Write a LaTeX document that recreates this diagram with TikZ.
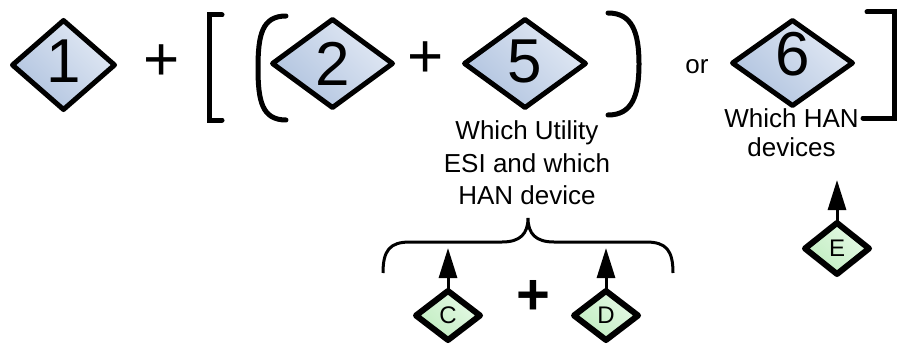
\documentclass[tikz,border=0pt]{standalone}
\usepackage{fontspec}
\setmainfont{Liberation Sans}
\usetikzlibrary{shapes.geometric,arrows.meta,positioning}
\definecolor{blueL}{HTML}{E2E9F4}
\definecolor{blueD}{HTML}{B0C3DF}
\definecolor{greenL}{HTML}{E6F9E6}
\definecolor{greenD}{HTML}{C0EDC0}
\newcommand{\bigfont}{\fontsize{62}{62}\selectfont}
\newcommand{\labfont}{\fontsize{26}{32.5}\selectfont}

\begin{document}
\begin{tikzpicture}[x=1pt, y=-1pt,
        % Diamonds
        bigdia/.style={diamond, draw=black, line width=5pt, line join=round, inner sep=0pt, outer sep=0pt, minimum width=120pt, minimum height=88pt, left color=blueL, right color=blueD, shading angle=-45},
        smalldia/.style={diamond, draw=black, line width=6pt, line join=round, inner sep=0pt, outer sep=0pt, minimum width=64pt, minimum height=49pt, left color=greenL, right color=greenD, shading angle=-45},
        % Signs and texts
        sign/.style={font=\bigfont, inner sep=0pt},
        letter/.style={font=\fontsize{24}{24}\selectfont, inner sep=0pt},
        caption/.style={font=\labfont, align=center, inner sep=0pt},
        % Lines
        bracket/.style={line width=5pt, line cap=round},
        uparrow/.style={line width=3pt, -{Triangle[length=30pt, width=18pt]}}
    ]
        \useasboundingbox (0,0) rectangle (897,345);

        % Top row
        \node (d1) [bigdia, minimum width=102pt, minimum height=89pt, label={[sign, yshift=4pt]center:1}] at (63.5,65) {};
        \node (p1) [sign] at (162,63) {+};
        \node (d2) [bigdia, label={[sign]center:2}] at (332.5,63.5) {};
        \node (p2) [sign] at (426,60) {+};
        \node (d5) [bigdia, minimum width=121pt, label={[sign, yshift=2.5pt]center:5}] at (525,63.5) {};
        \node (or) [font=\labfont, inner sep=0pt] at (697,67) {or};
        \node (d6) [bigdia, minimum height=85pt, label={[sign, yshift=9pt]center:6}] at (792.5,63) {};

        % Brackets
        \draw[bracket] (222,15) -- (209,15) -- (209,120) -- (222,120);
        \draw[bracket] (286,16) .. controls (262,16) and (258,35) .. (258,68)
            .. controls (258,101) and (262,120) .. (286,120);
        \draw[bracket] (608,13) .. controls (632,13) and (639,32) .. (639,64)
            .. controls (639,96) and (632,115) .. (608,115);
        \draw[bracket] (867,12) -- (894.5,12) -- (894.5,118) -- (863,118);

        % Captions
        \node (t5) [caption] at (527,163) {Which Utility\\ESI and which\\HAN device};
        \node (t6) [caption, font=\fontsize{26}{29}\selectfont] at (791.5,133) {Which HAN\\devices};

        % Brace
        \draw[line width=3pt] (383,273) .. controls (383,250) and (390,242) .. (410,242) -- (502,242)
            .. controls (520,242) and (528,234) .. (528,218)
            .. controls (528,234) and (536,242) .. (554,242) -- (646,242)
            .. controls (666,242) and (673,250) .. (673,273);

        % Bottom row
        \node (dc) [smalldia, label={[letter]center:C}] at (448,315.5) {};
        \node (pb) [sign, font=\fontsize{58}{58}\selectfont\bfseries] at (533,297) {+};
        \node (dd) [smalldia, label={[letter]center:D}] at (606,315.5) {};
        \node (de) [smalldia, minimum height=51pt, label={[letter]center:E}] at (837,248.5) {};
        \coordinate (tc) at (448,248);
        \coordinate (td) at (606,248);
        \coordinate (te) at (837,180);

        % Arrows
        \draw[uparrow] (dc.north) -- (tc);
        \draw[uparrow] (dd.north) -- (td);
        \draw[uparrow] (de.north) -- (te);
    \end{tikzpicture}
\end{document}
